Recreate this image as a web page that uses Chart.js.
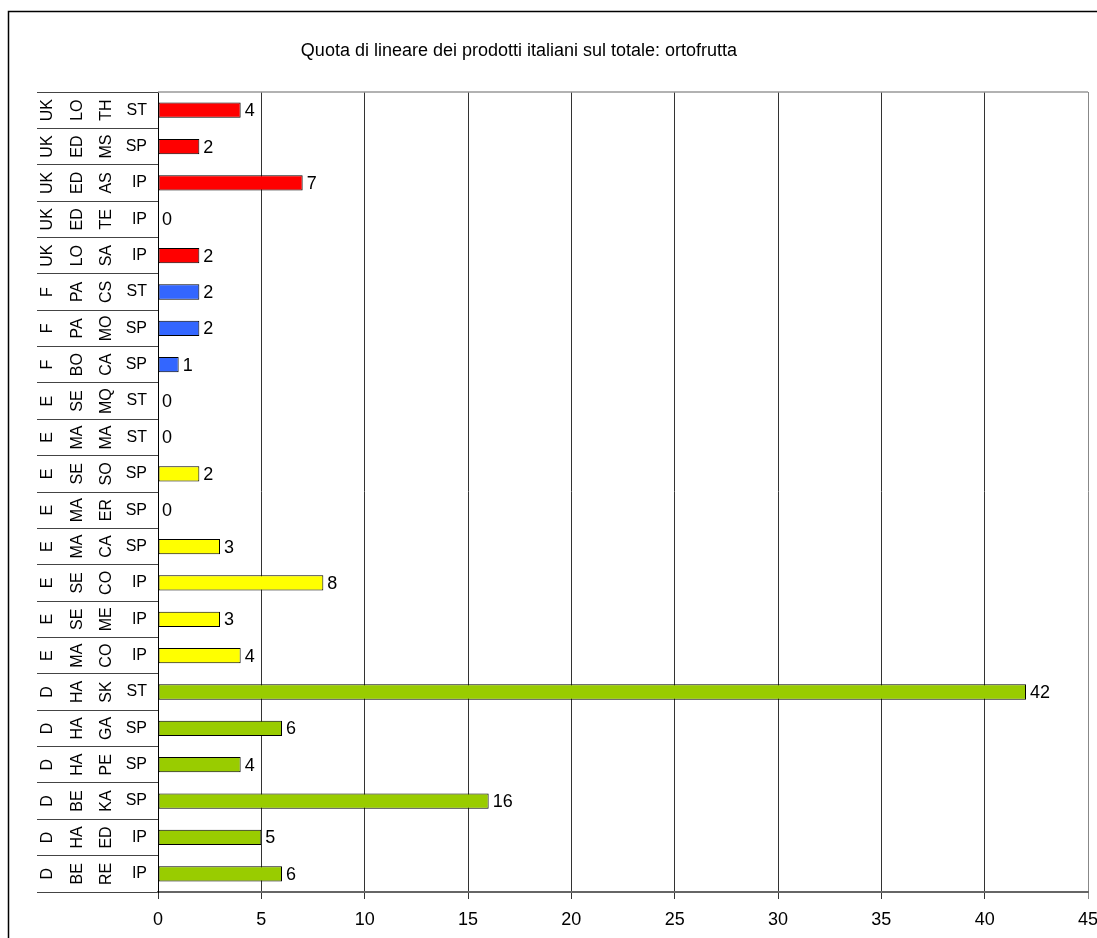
<!DOCTYPE html>
<html>
<head>
<meta charset="utf-8">
<title>Quota di lineare - ortofrutta</title>
<script src="https://cdn.jsdelivr.net/npm/chart.js@4/dist/chart.umd.min.js"></script>
<style>
    html, body { margin: 0; padding: 0; background: #fff; }
    #grafico { display: block; }
</style>
</head>
<body>
<canvas id="grafico" width="1097" height="938"></canvas>
<script>

// ===============================
// DATI (dall'alto verso il basso)
// ===============================

const paesi   = ["UK", "UK", "UK", "UK", "UK", "F", "F", "F", "E", "E", "E", "E", "E", "E", "E", "E", "D", "D", "D", "D", "D", "D"];
const citta   = ["LO", "ED", "ED", "ED", "LO", "PA", "PA", "BO", "SE", "MA", "SE", "MA", "MA", "SE", "SE", "MA", "HA", "HA", "HA", "BE", "HA", "BE"];
const insegne = ["TH", "MS", "AS", "TE", "SA", "CS", "MO", "CA", "MQ", "MA", "SO", "ER", "CA", "CO", "ME", "CO", "SK", "GA", "PE", "KA", "ED", "RE"];
const formati = ["ST", "SP", "IP", "IP", "IP", "ST", "SP", "SP", "ST", "ST", "SP", "SP", "SP", "IP", "IP", "IP", "ST", "SP", "SP", "SP", "IP", "IP"];
const quote   = [4, 2, 7, 0, 2, 2, 2, 1, 0, 0, 2, 0, 3, 8, 3, 4, 42, 6, 4, 16, 5, 6];

const titolo = "Quota di lineare dei prodotti italiani sul totale: ortofrutta";

const coloriPaese = {
    UK: "#FF0000",
    F:  "#3366FF",
    E:  "#FFFF00",
    D:  "#99CC00"
};

const FONT = "'Liberation Sans', Arial, sans-serif";

// ===============================
// PLUGIN: cornice, titolo, etichette
// ===============================

const cornice = {
    id: "cornice",
    beforeDraw(chart) {
        const ctx = chart.ctx;
        ctx.save();
        ctx.fillStyle = "#fff";
        ctx.fillRect(0, 0, chart.width, chart.height);
        ctx.strokeStyle = "#000";
        ctx.lineWidth = 1.5;
        ctx.strokeRect(8.5, 11.5, 1300, 1300);

        ctx.fillStyle = "#000";
        ctx.font = "18px " + FONT;
        ctx.textAlign = "center";
        ctx.textBaseline = "middle";
        ctx.fillText(titolo, 519, 51);
        ctx.restore();
    },
    afterDraw(chart) {
        const ctx = chart.ctx;
        const area = chart.chartArea;
        ctx.save();
        ctx.strokeStyle = "#999";
        ctx.lineWidth = 1.5;
        ctx.beginPath();
        ctx.moveTo(area.left, area.top);
        ctx.lineTo(area.right, area.top);
        ctx.stroke();
        ctx.restore();
    }
};

const etichetteCategorie = {
    id: "etichetteCategorie",
    afterDraw(chart) {
        const ctx = chart.ctx;
        const y = chart.scales.y;
        ctx.save();
        ctx.fillStyle = "#000";
        ctx.font = "16px " + FONT;
        ctx.textBaseline = "middle";

        paesi.forEach((p, i) => {
            const py = y.getPixelForValue(i);
            [[p, 48], [citta[i], 78], [insegne[i], 107]].forEach(([testo, px]) => {
                ctx.save();
                ctx.translate(px, py);
                ctx.rotate(-Math.PI / 2);
                ctx.textAlign = "center";
                ctx.fillText(testo, 0, 0);
                ctx.restore();
            });
            ctx.textAlign = "right";
            ctx.fillText(formati[i], 147, py);
        });
        ctx.restore();
    }
};

const valoriBarre = {
    id: "valoriBarre",
    afterDatasetsDraw(chart) {
        const ctx = chart.ctx;
        const meta = chart.getDatasetMeta(0);
        ctx.save();
        ctx.fillStyle = "#000";
        ctx.font = "18px " + FONT;
        ctx.textAlign = "left";
        ctx.textBaseline = "middle";
        meta.data.forEach((barra, i) => {
            ctx.fillText(String(quote[i]), barra.x + 4, barra.y + 1);
        });
        ctx.restore();
    }
};

// ===============================
// GRAFICO
// ===============================

new Chart(document.getElementById("grafico"), {
    type: "bar",
    data: {
        labels: insegne,
        datasets: [{
            data: quote,
            backgroundColor: paesi.map(p => coloriPaese[p]),
            borderColor: "#000",
            borderWidth: 1,
            borderSkipped: false,
            barPercentage: 0.42,
            categoryPercentage: 1
        }]
    },
    options: {
        indexAxis: "y",
        responsive: false,
        animation: false,
        layout: {
            padding: { top: 92, right: 9, bottom: 0, left: 0 }
        },
        plugins: {
            legend: { display: false },
            title: { display: false },
            tooltip: { enabled: false }
        },
        scales: {
            x: {
                min: 0,
                max: 45,
                ticks: {
                    stepSize: 5,
                    padding: 10,
                    color: "#000",
                    font: { family: FONT, size: 18 }
                },
                grid: {
                    color: c => (c.tick && c.tick.value === 45) ? "#888" : "#333",
                    lineWidth: 1,
                    tickLength: 7
                },
                border: { color: "#666", width: 2 },
                afterFit(scale) {
                    scale.height = 46;
                    scale.paddingRight = 0;
                    scale.paddingLeft = 0;
                }
            },
            y: {
                ticks: { display: false },
                grid: {
                    offset: true,
                    drawOnChartArea: false,
                    color: "#444",
                    tickLength: 121
                },
                border: { color: "#000", width: 1 },
                afterFit(scale) { scale.width = 158; }
            }
        }
    },
    plugins: [cornice, etichetteCategorie, valoriBarre]
});

</script>
</body>
</html>
